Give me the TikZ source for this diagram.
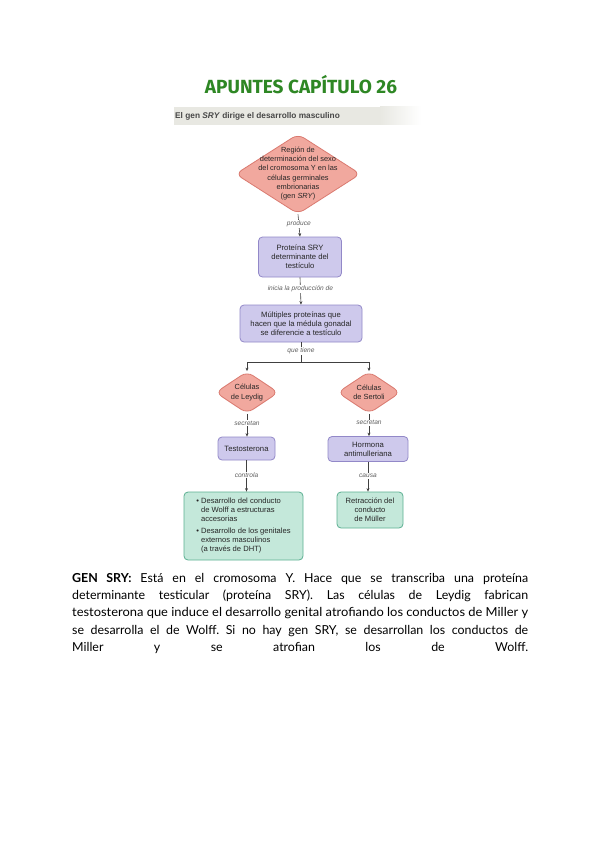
\documentclass[tikz,border=0pt]{standalone}
\usepackage{graphicx}
\usepackage{fontspec}
\setmainfont{Lato}
\newfontfamily\diagfont{Liberation Sans}
\newfontfamily\titlefont{Fira Sans}
\usetikzlibrary{shapes.geometric,arrows.meta}
\definecolor{pinkfill}{RGB}{241,168,158}
\definecolor{pinkdraw}{RGB}{218,122,112}
\definecolor{purpfill}{RGB}{206,201,236}
\definecolor{purpdraw}{RGB}{146,136,200}
\definecolor{greenfill}{RGB}{196,232,218}
\definecolor{greendraw}{RGB}{92,176,146}
\definecolor{titlegreen}{RGB}{46,135,36}
\definecolor{labelgray}{RGB}{95,95,95}
\definecolor{bandgray}{RGB}{232,232,226}
\frenchspacing
\begin{document}
\begin{tikzpicture}[x=1pt,y=-1pt,
  diam/.style={shape=diamond, draw=pinkdraw, fill=pinkfill, line width=0.8pt, rounded corners=7pt, inner sep=0pt},
  dtext/.style={font=\diagfont\fontsize{7.4}{9.3}\selectfont, align=center, text=black!85, inner sep=0pt},
  pbox/.style={draw=purpdraw, fill=purpfill, line width=0.8pt, rounded corners=4pt, inner sep=0pt, font=\diagfont\fontsize{7.7}{9.2}\selectfont, align=center, text=black!85},
  gbox/.style={draw=greendraw, fill=greenfill, line width=0.8pt, rounded corners=4pt, inner sep=0pt, font=\diagfont\fontsize{7.6}{9}\selectfont, text=black!85},
  lab/.style={font=\diagfont\itshape\fontsize{6.6}{7}\selectfont, text=labelgray, fill=white, inner sep=1pt},
  conn/.style={draw=black!75, line width=0.6pt},
  arr/.style={conn, -{Stealth[length=3.5pt,width=3pt]}},
]
\useasboundingbox (0,0) rectangle (599,848);
\fill[white] (0,0) rectangle (599,848);

% title
\node[font=\titlefont\bfseries, text=titlegreen, inner sep=0pt] (title) at (301,85) {\resizebox{192pt}{!}{APUNTES CAPÍTULO 26}};

% header band
\fill[bandgray] (174,107) rectangle (380,125);
\fill[left color=bandgray, right color=white] (380,107) rectangle (421,125);
\node[anchor=west, inner sep=0pt, font=\diagfont\bfseries\fontsize{8.3}{9}\selectfont, text=black!72] (hdr) at (175,116) {El gen \textit{SRY} dirige el desarrollo masculino};

% nodes
\node[diam, minimum width=125pt, minimum height=80pt] (sry) at (298,174) {};
\node[dtext] (srytext) at (298,173.5) {Región de\\determinación del sexo\\del cromosoma Y en las\\células germinales\\embrionarias\\(gen \textit{SRY})};

\node[pbox, minimum width=83pt, minimum height=40pt] (prot) at (300,257) {Proteína SRY\\determinante del\\testículo};

\node[pbox, minimum width=122pt, minimum height=37pt] (mult) at (301,323.5) {Múltiples proteínas que\\hacen que la médula gonadal\\se diferencie a testículo};

\node[diam, minimum width=63pt, minimum height=42pt] (leydig) at (247,392.5) {};
\node[dtext] (leydigtext) at (247,392.5) {Células\\de Leydig};
\node[diam, minimum width=63pt, minimum height=42pt] (sertoli) at (369,392.5) {};
\node[dtext] (sertolitext) at (369,392.5) {Células\\de Sertoli};

\node[pbox, minimum width=57pt, minimum height=23pt] (testo) at (246.5,448.5) {Testosterona};
\node[pbox, minimum width=80pt, minimum height=25pt] (hormona) at (368,449) {Hormona\\antimulleriana};

\node[gbox, minimum width=119pt, minimum height=68pt, align=left] (wolff) at (243.5,526) {%
\begin{tabular}{@{}l@{\hspace{2pt}}l@{}}
\textbullet & Desarrollo del conducto\\
 & de Wolff a estructuras\\
 & accesorias\\[3pt]
\textbullet & Desarrollo de los genitales\\
 & externos masculinos\\
 & (a través de DHT)
\end{tabular}};
\node[gbox, minimum width=66pt, minimum height=36pt, align=center] (muller) at (370,510) {Retracción del\\conducto\\de Müller};

% connectors
\draw[arr] (sry.south) -- (prot.north) node[lab, pos=0.42] {produce};
\draw[arr] (prot.south) -- (mult.north) node[lab, pos=0.43] {inicia la producción de};
\coordinate (split) at (301,362);
\draw[conn] (mult.south) -- (split) node[lab, pos=0.45] {que tiene};
\draw[arr] (split) -| (leydig.north);
\draw[arr] (split) -| (sertoli.north);
\draw[arr] (leydig.south) -- (leydig.south |- testo.north) node[lab, pos=0.4] {secretan};
\draw[arr] (sertoli.south) -- (sertoli.south |- hormona.north) node[lab, pos=0.4] {secretan};
\draw[arr] (testo.south) -- (testo.south |- wolff.north) node[lab, pos=0.47] {controla};
\draw[arr] (hormona.south) -- (hormona.south |- muller.north) node[lab, pos=0.47] {causa};

% body text
\node[anchor=base west, inner sep=0pt] (body) at (72,582) {\begin{minipage}[t]{456pt}\fontsize{12.4}{17.4}\selectfont\parindent=0pt
\makebox[456pt][s]{\textbf{GEN SRY:} Está en el cromosoma Y. Hace que se transcriba una proteína}\\
\makebox[456pt][s]{determinante testicular (proteína SRY). Las células de Leydig fabrican}\\
\resizebox{456pt}{\height}{testosterona que induce el desarrollo genital atrofiando los conductos de Miller y}\\
\makebox[456pt][s]{se desarrolla el de Wolff. Si no hay gen SRY, se desarrollan los conductos de}\\
\makebox[456pt][s]{Miller y se atrofian los de Wolff.}
\end{minipage}};
\end{tikzpicture}
\end{document}
